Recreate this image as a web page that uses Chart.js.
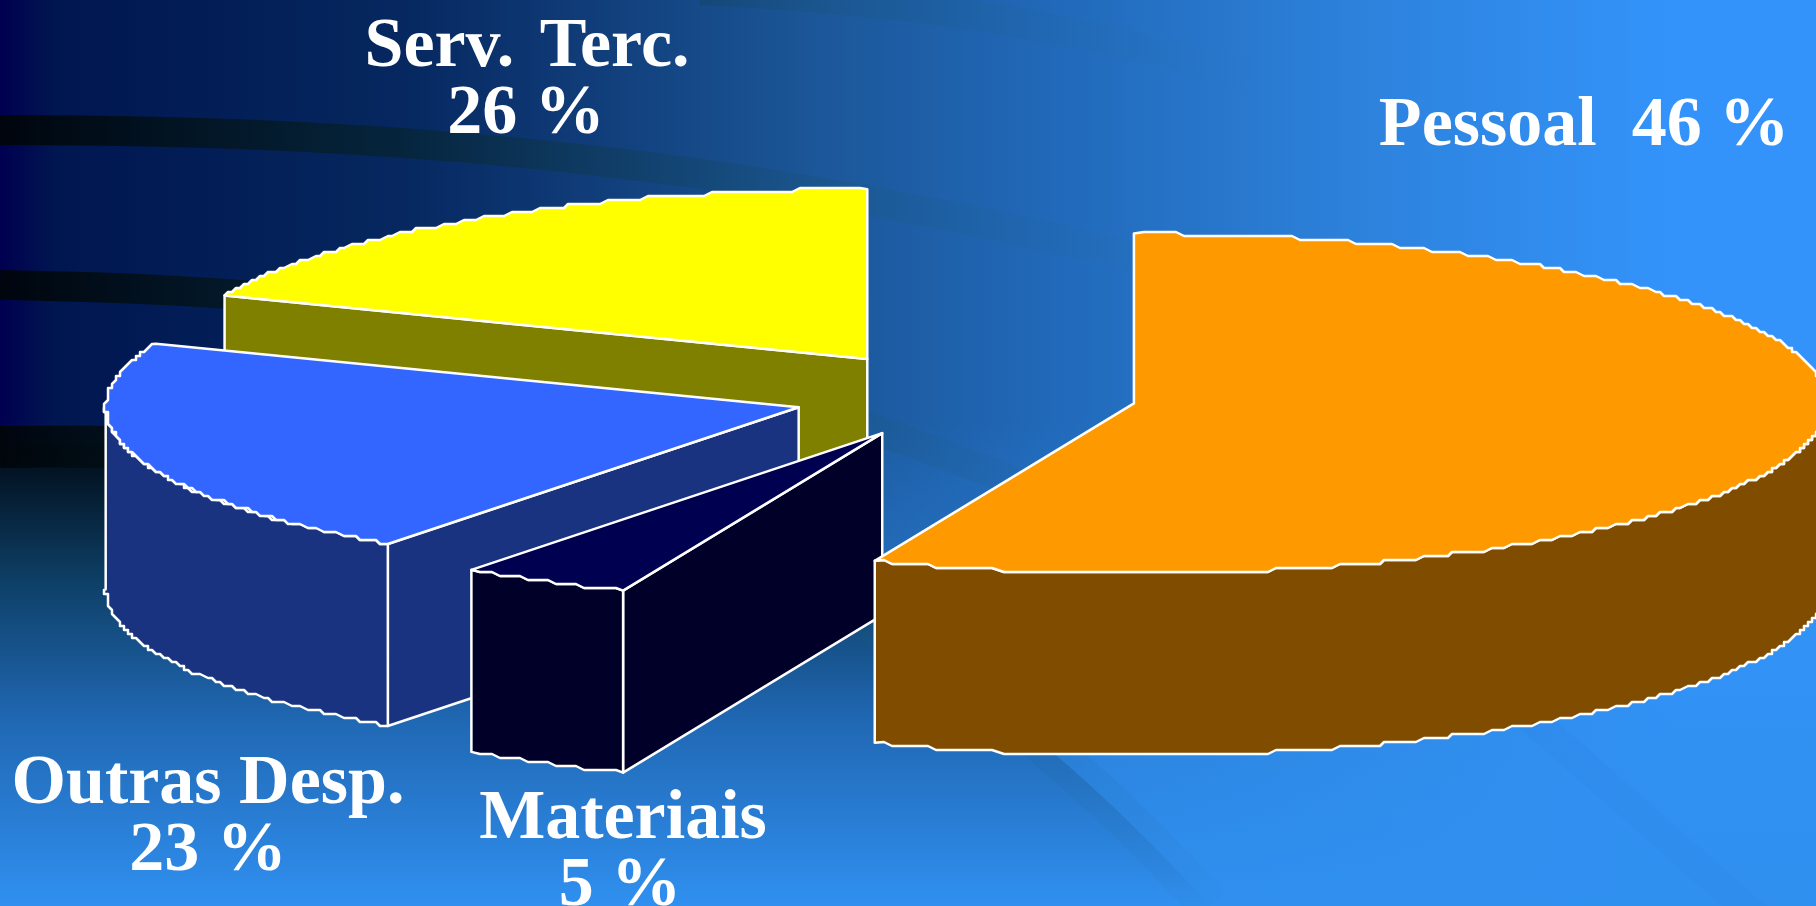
<!DOCTYPE html>
<html>
<head>
<meta charset="utf-8">
<style>
html, body { margin: 0; padding: 0; background: #3090f0; overflow: hidden; }
canvas { display: block; }
</style>
<script src="https://cdn.jsdelivr.net/npm/chart.js@4"></script>
</head>
<body>
<div style="width:1816px;height:906px"><canvas id="myChart" width="1816" height="906"></canvas></div>
<script>
const categories = ['Pessoal', 'Materiais', 'Outras Desp.', 'Serv. Terc.'];
// printed percentages
const printedPercent = ['46 %', '5 %', '23 %', '26 %'];
// share of the circle as drawn, read from the slice edges (not the same as the printed text)
const drawnShare = [56.1, 4.0, 21.0, 18.9];

const topColors = ['#ff9900', '#000050', '#3366ff', '#ffff00'];
const sideColors = ['#804c00', '#000028', '#1a3380', '#808000'];
const explode = [169, 176, 176, 180];

const squash = 0.245;
const depth = 182;
const grid = 4;

//Arredonda para criar o contorno serrilhado do original.
function snap(v) {
    return Math.round(v / grid) * grid;
}

function sliceGeometry(arc) {
    const p = arc.getProps(['x', 'y', 'startAngle', 'endAngle', 'outerRadius']);
    const mid = (p.startAngle + p.endAngle) / 2;
    const off = arc.options.offset;
    return {
        cx: p.x + Math.cos(mid) * off,
        cy: p.y + Math.sin(mid) * off * squash,
        r: p.outerRadius,
        a0: p.startAngle,
        a1: p.endAngle
    };
}

function rimPoints(g, from, to) {
    const pts = [];
    const n = Math.max(2, Math.ceil((to - from) / 0.012));
    for (let k = 0; k <= n; k++) {
        const a = from + (to - from) * k / n;
        let x = g.cx + Math.cos(a) * g.r;
        let y = g.cy + Math.sin(a) * g.r * squash;
        if (k > 0 && k < n) {
            x = snap(x);
            y = snap(y);
        }
        pts.push({ x, y });
    }
    return pts;
}

function poly(ctx, pts, fill) {
    ctx.beginPath();
    pts.forEach((p, k) => k ? ctx.lineTo(p.x, p.y) : ctx.moveTo(p.x, p.y));
    ctx.closePath();
    ctx.fillStyle = fill;
    ctx.fill();
    ctx.stroke();
}

function drawSlice(ctx, arc, i) {
    const g = sliceGeometry(arc);
    const apex = { x: g.cx, y: g.cy };
    const rim = rimPoints(g, g.a0, g.a1);
    const down = p => ({ x: p.x, y: p.y + depth });
    // cut faces turned towards the viewer
    if (Math.cos(g.a0) < -0.001) {
        poly(ctx, [apex, rim[0], down(rim[0]), down(apex)], sideColors[i]);
    }
    if (Math.cos(g.a1) > 0.001) {
        const e = rim[rim.length - 1];
        poly(ctx, [apex, e, down(e), down(apex)], sideColors[i]);
    }
    // outer wall, lower half of the ellipse only
    const from = Math.max(g.a0, 0);
    const to = Math.min(g.a1, Math.PI);
    if (from < to) {
        const wall = rimPoints(g, from, to);
        poly(ctx, wall.concat(wall.slice().reverse().map(down)), sideColors[i]);
    }
    poly(ctx, [apex].concat(rim), topColors[i]);
}

function band(ctx, pts, width, grad) {
    ctx.beginPath();
    ctx.moveTo(pts[0], pts[1]);
    ctx.bezierCurveTo(pts[2], pts[3], pts[4], pts[5], pts[6], pts[7]);
    ctx.lineWidth = width;
    ctx.strokeStyle = grad;
    ctx.stroke();
}

//Fundo do slide: degradê azul com as faixas curvas.
function drawBackground(ctx, w, h) {
    let g = ctx.createLinearGradient(0, 0, w, 0);
    g.addColorStop(0, '#000050');
    g.addColorStop(0.03, '#001650');
    g.addColorStop(0.22, '#06275f');
    g.addColorStop(0.44, '#1b5596');
    g.addColorStop(0.58, '#2169b9');
    g.addColorStop(0.75, '#2d82dc');
    g.addColorStop(0.92, '#3393fa');
    g.addColorStop(1, '#3393fa');
    ctx.fillStyle = g;
    ctx.fillRect(0, 0, w, h);

    g = ctx.createLinearGradient(0, 420, 0, h);
    g.addColorStop(0, 'rgba(48,144,240,0)');
    g.addColorStop(1, 'rgba(48,144,240,1)');
    ctx.fillStyle = g;
    ctx.fillRect(0, 420, w, h - 420);

    // area under the big arc
    ctx.beginPath();
    ctx.moveTo(0, 445);
    ctx.bezierCurveTo(520, 440, 860, 520, 1210, 906);
    ctx.lineTo(0, 906);
    ctx.closePath();
    g = ctx.createLinearGradient(0, 445, 0, h);
    g.addColorStop(0, '#000a14');
    g.addColorStop(0.3, '#0e4068');
    g.addColorStop(0.6, '#2068b4');
    g.addColorStop(1, '#3090f0');
    ctx.fillStyle = g;
    ctx.fill();

    const dark = ctx.createLinearGradient(0, 0, 1300, 0);
    dark.addColorStop(0, 'rgba(0,5,10,0.95)');
    dark.addColorStop(0.3, 'rgba(5,35,50,0.8)');
    dark.addColorStop(0.65, 'rgba(25,85,125,0.3)');
    dark.addColorStop(1, 'rgba(40,120,190,0)');
    band(ctx, [0, 130, 400, 130, 800, 160, 1300, 300], 30, dark);
    band(ctx, [0, 285, 300, 290, 600, 310, 1060, 500], 30, dark);
    band(ctx, [0, 447, 520, 440, 860, 520, 1210, 906], 42, dark);
    band(ctx, [700, -10, 900, 0, 1050, 20, 1250, 75], 30, dark);

    band(ctx, [1510, 700, 1600, 780, 1680, 850, 1760, 920], 30, 'rgba(40,110,200,0.08)');
}

const slidePlugin = {
    id: 'slide',
    beforeDraw(chart) {
        drawBackground(chart.ctx, chart.width, chart.height);
    },
    beforeDatasetsDraw(chart) {
        const ctx = chart.ctx;
        const arcs = chart.getDatasetMeta(0).data;
        ctx.save();
        ctx.strokeStyle = '#ffffff';
        ctx.lineWidth = 2.5;
        ctx.lineJoin = 'round';
        // back to front
        [3, 2, 1, 0].forEach(i => drawSlice(ctx, arcs[i], i));
        ctx.restore();
        return false;
    },
    afterDraw(chart) {
        const ctx = chart.ctx;
        ctx.save();
        ctx.fillStyle = '#ffffff';
        ctx.font = 'bold 70px "Liberation Serif"';
        ctx.textAlign = 'center';
        ctx.wordSpacing = '8px';
        ctx.fillText(categories[3], 527, 66);
        ctx.wordSpacing = '0px';
        ctx.fillText(printedPercent[3], 526, 133);
        ctx.fillText(categories[0] + '  ' + printedPercent[0], 1584, 145);
        ctx.fillText(categories[2], 208, 803);
        ctx.fillText(printedPercent[2], 208, 870);
        ctx.fillText(categories[1], 623, 838);
        ctx.fillText(printedPercent[1], 620, 905);
        ctx.restore();
    }
};

const ctx = document.getElementById('myChart').getContext('2d');
const myChart = new Chart(ctx, {
    type: 'pie',
    data: {
        labels: categories,
        datasets: [{
            data: drawnShare,
            backgroundColor: topColors,
            borderColor: '#ffffff',
            borderWidth: 2,
            offset: explode
        }]
    },
    options: {
        responsive: false,
        animation: false,
        radius: 693,
        layout: { padding: { left: 120, bottom: 115 } },
        plugins: { legend: { display: false }, tooltip: { enabled: false } }
    },
    plugins: [slidePlugin]
});
</script>
</body>
</html>
